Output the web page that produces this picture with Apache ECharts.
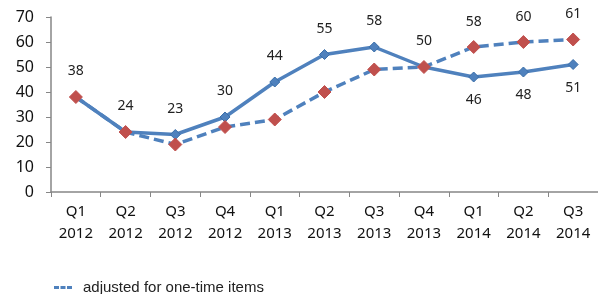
<!DOCTYPE html>
<html>
<head>
<meta charset="utf-8">
<script src="https://cdn.jsdelivr.net/npm/echarts@6/dist/echarts.min.js"></script>
<style>
  html, body { margin: 0; padding: 0; background: #fff; }
  #main { width: 598px; height: 294px; }
</style>
</head>
<body>
<div id="main"></div>
<script>
var categories = ['Q1\n2012', 'Q2\n2012', 'Q3\n2012', 'Q4\n2012', 'Q1\n2013', 'Q2\n2013',
                  'Q3\n2013', 'Q4\n2013', 'Q1\n2014', 'Q2\n2014', 'Q3\n2014'];
var reported = [38, 24, 23, 30, 44, 55, 58, 50, 46, 48, 51];
var adjusted = [38, 24, 19, 26, 29, 40, 49, 50, 58, 60, 61];
var yTicks = [0, 10, 20, 30, 40, 50, 60, 70];

var blue = '#4F81BD';
var red = '#C0504D';
var font = 'Noto Sans';

// reported labels above, except last three go below the line
var reportedData = reported.map(function (v, i) {
    var below = i >= 8;
    return { value: v, label: { position: below ? 'bottom' : 'top', distance: below ? 11 : 13 } };
});
// adjusted only labelled where it sits above
var adjustedData = adjusted.map(function (v, i) {
    return { value: v, label: { show: i >= 8 } };
});

var myChart = echarts.init(document.getElementById('main'));
var option = {
    animation: false,
    grid: { left: 51, top: 17, width: 550, height: 175 },
    legend: {
        data: ['adjusted for one-time items'],
        left: 54, top: 280,
        itemWidth: 18, itemHeight: 3, itemGap: 8, padding: 0,
        icon: 'path://M0,0h5v3h-5z M6.5,0h5v3h-5z M13,0h5v3h-5z',
        itemStyle: { color: blue },
        textStyle: { fontFamily: 'Liberation Sans', fontSize: 15, color: '#222', padding: [0, 0, 0, 6] }
    },
    xAxis: {
        type: 'category',
        data: categories,
        boundaryGap: true,
        axisLine: { lineStyle: { color: '#868686', width: 1.5 } },
        axisTick: { show: true, length: 5, lineStyle: { color: '#868686' } },
        axisLabel: { fontFamily: font, fontSize: 15, color: '#111', lineHeight: 22, margin: 9 }
    },
    yAxis: {
        type: 'value',
        min: yTicks[0], max: yTicks[yTicks.length - 1], interval: 10,
        axisLine: { show: true, lineStyle: { color: '#868686', width: 1.5 } },
        axisTick: { show: true, length: 5, lineStyle: { color: '#868686' } },
        splitLine: { show: false },
        axisLabel: { fontFamily: font, fontSize: 16, color: '#111', margin: 17 }
    },
    series: [
        {
            name: 'reported',
            type: 'line',
            data: reportedData,
            z: 2,
            symbol: 'diamond',
            symbolSize: 10,
            itemStyle: { color: blue, borderColor: '#3a6ea8', borderWidth: 1 },
            lineStyle: { color: blue, width: 3.5 },
            label: { show: true, fontFamily: font, fontSize: 14, color: '#222' }
        },
        {
            name: 'adjusted for one-time items',
            type: 'line',
            data: adjustedData,
            z: 3,
            symbol: 'diamond',
            symbolSize: 13,
            itemStyle: { color: red, borderColor: red },
            lineStyle: { color: blue, width: 3.5, type: [10, 5] },
            label: { show: false, position: 'top', distance: 11, fontFamily: font, fontSize: 14, color: '#222' }
        }
    ]
};
myChart.setOption(option);
</script>
</body>
</html>
